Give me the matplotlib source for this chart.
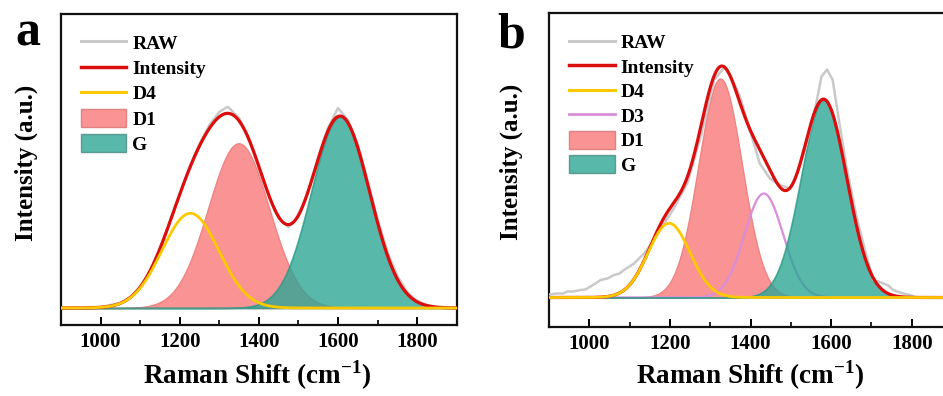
import numpy as np
import matplotlib.pyplot as plt
from matplotlib.lines import Line2D
from matplotlib.patches import Patch

plt.rcParams['font.family'] = ['Liberation Serif', 'DejaVu Serif']
plt.rcParams['font.weight'] = 'bold'
plt.rcParams['mathtext.fontset'] = 'custom'
plt.rcParams['mathtext.rm'] = 'Liberation Serif:bold'
plt.rcParams['mathtext.bf'] = 'Liberation Serif:bold'

# ---- panel a: fitted bands (centre, height, sigma) ----
a_names = ['D4', 'D1', 'G']
a_centre = [1227, 1349, 1606]
a_height = [0.947, 1.647, 1.913]
a_sigma = [72, 77, 74]

a_raw_x = [900, 925, 950, 975, 1000, 1025, 1050, 1075, 1100, 1125, 1150, 1175,
           1200, 1225, 1250, 1275, 1300, 1320, 1325, 1350, 1375, 1400, 1425,
           1450, 1475, 1500, 1525, 1550, 1575, 1600, 1625, 1650, 1675, 1700,
           1725, 1750, 1775, 1800, 1825, 1850, 1875, 1900]
a_raw_y = [0.00, 0.00, 0.00, 0.01, 0.01, 0.03, 0.05, 0.11, 0.21, 0.37, 0.59, 0.86,
           1.14, 1.41, 1.64, 1.83, 1.96, 2.01, 2.00, 1.90, 1.70, 1.42, 1.12,
           0.90, 0.81, 0.91, 1.17, 1.50, 1.80, 2.00, 1.88, 1.64, 1.27, 0.89,
           0.56, 0.32, 0.16, 0.07, 0.03, 0.01, 0.00, 0.00]

# ---- panel b ----
b_names = ['D4', 'D3', 'D1', 'G']
b_centre = [1198, 1433, 1325, 1582]
b_height = [0.742, 1.04, 2.19, 1.975]
b_sigma = [52, 48, 54, 57]

b_raw_x = [900, 920, 935, 945, 960, 978, 990, 1003, 1015, 1028, 1045, 1061, 1075,
           1086, 1100, 1111, 1136, 1161, 1186, 1211, 1244, 1277, 1310, 1335,
           1350, 1373, 1398, 1423, 1448, 1473, 1498, 1510, 1535, 1560, 1576,
           1590, 1604, 1618, 1638, 1663, 1688, 1705, 1718, 1730, 1742, 1754,
           1779, 1796, 1810, 1900]
b_raw_y = [0.03, 0.04, 0.04, 0.06, 0.06, 0.075, 0.08, 0.11, 0.14, 0.175, 0.19, 0.225, 0.24,
           0.275, 0.31, 0.34, 0.44, 0.575, 0.74, 0.90, 1.15, 1.62, 2.18, 2.30,
           2.22, 2.02, 1.68, 1.34, 1.19, 1.125, 1.09, 1.175, 1.475, 1.875, 2.21,
           2.28, 2.175, 1.81, 1.31, 0.81, 0.41, 0.175, 0.16, 0.14, 0.12, 0.075,
           0.04, 0.025, 0.0, 0.0]

colors = {'RAW': '#c9c9c9', 'Intensity': '#dc0d0d', 'D4': '#fcc800',
          'D3': '#d88ed8', 'D1': '#fa9494', 'G': (46/255, 166/255, 149/255)}


def gauss(x, c, h, s):
    return h * np.exp(-(x - c) ** 2 / (2.0 * s * s))


def draw(ax, names, centre, height, sigma, raw_x, raw_y, ylim, leg_y, leg_sp):
    x = np.linspace(900, 1900, 2001)
    bands = {n: gauss(x, c, h, s) for n, c, h, s in zip(names, centre, height, sigma)}
    total = sum(bands.values())

    ax.fill_between(x, 0, bands['D1'], color=colors['D1'], edgecolor='#ee8484',
                    linewidth=1.0, zorder=2)
    if 'D3' in bands:
        ax.plot(x, bands['D3'], color=colors['D3'], lw=1.6, zorder=3)
    ax.fill_between(x, 0, bands['G'], facecolor=colors['G'], alpha=0.8,
                    edgecolor='#2a9a88', linewidth=1.2, zorder=4)
    ax.plot(raw_x, raw_y, color=colors['RAW'], lw=1.8, zorder=5)
    ax.plot(x, total, color=colors['Intensity'], lw=2.3, zorder=6)
    ax.plot(x, bands['D4'], color=colors['D4'], lw=2.0, zorder=7)

    ax.set_xlim(900, 1900)
    ax.set_ylim(*ylim)
    ax.set_xticks([1000, 1200, 1400, 1600, 1800])
    ax.set_xticks([1100, 1300, 1500, 1700], minor=True)
    ax.set_yticks([])
    ax.tick_params(axis='x', which='major', direction='in', length=6, width=1.4,
                   labelsize=15, pad=5)
    ax.tick_params(axis='x', which='minor', direction='in', length=3.5, width=1.2)
    for sp in ax.spines.values():
        sp.set_linewidth(1.6)
        sp.set_color('#111111')

    handles = [Line2D([], [], color=colors['RAW'], lw=2.2),
               Line2D([], [], color=colors['Intensity'], lw=2.5),
               Line2D([], [], color=colors['D4'], lw=2.2)]
    labels = ['RAW', 'Intensity', 'D4']
    if 'D3' in bands:
        handles.append(Line2D([], [], color=colors['D3'], lw=2.0))
        labels.append('D3')
    handles += [Patch(facecolor=colors['D1'], edgecolor='#e08080', lw=1.0),
                Patch(facecolor=colors['G'], alpha=0.8, edgecolor='#4a8a80', lw=1.0)]
    labels += ['D1', 'G']
    ax.legend(handles, labels, loc='upper left', bbox_to_anchor=(0.05, leg_y),
              frameon=False, fontsize=14, handlelength=2.35, handleheight=1.05,
              handletextpad=0.3, labelspacing=leg_sp, borderpad=0, borderaxespad=0)

    ax.set_ylabel('Intensity (a.u.)', fontsize=18, fontweight='bold')
    ax.set_xlabel('Raman Shift (cm$^{-1}$)', fontsize=19.5, fontweight='bold')


fig = plt.figure(figsize=(9.43, 3.96), dpi=100)
ax1 = fig.add_axes([61/943, 71/396, 395.7/943, 311/396])
ax2 = fig.add_axes([549/943, 69/396, 403/943, 314/396])

draw(ax1, a_names, a_centre, a_height, a_sigma, a_raw_x, a_raw_y, (-0.17, 2.94), 0.937, 0.28)
draw(ax2, b_names, b_centre, b_height, b_sigma, b_raw_x, b_raw_y, (-0.295, 2.845), 0.937, 0.25)

ax1.yaxis.set_label_coords(-0.058, 0.522)
ax2.yaxis.set_label_coords(-0.065, 0.526)
ax1.xaxis.set_label_coords(0.495, -0.19)
ax2.xaxis.set_label_coords(0.5, -0.182)
ax1.xaxis.label.set_va('baseline')
ax2.xaxis.label.set_va('baseline')

fig.text(28/943, 1 - 45/396, 'a', fontsize=36, fontweight='bold', ha='center', va='baseline')
fig.text(511.5/943, 1 - 47/396, 'b', fontsize=36, fontweight='bold', ha='center', va='baseline')

fig.savefig('out.png', dpi=100)
